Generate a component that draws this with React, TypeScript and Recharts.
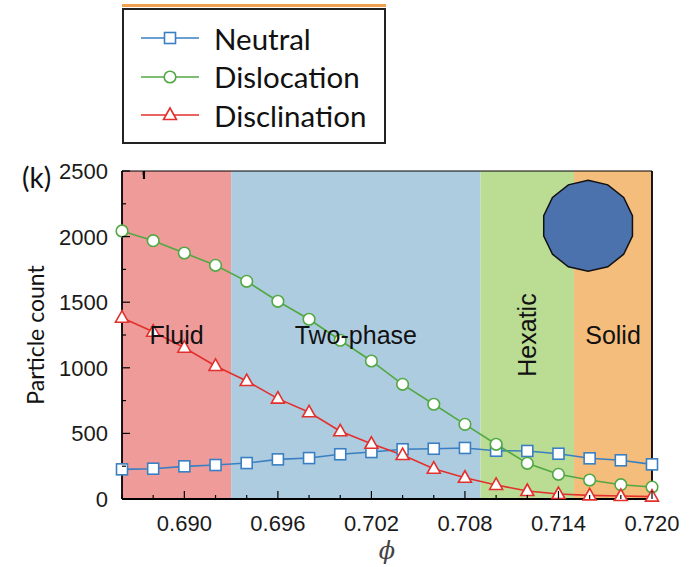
import { LineChart, Line, XAxis, YAxis, ReferenceArea, ReferenceDot, Legend } from "recharts"

// packing fraction
const phi = [0.686, 0.688, 0.69, 0.692, 0.694, 0.696, 0.698, 0.7, 0.702, 0.704, 0.706, 0.708, 0.71, 0.712, 0.714, 0.716, 0.718, 0.72]
const neutral = [226, 231, 249, 259, 274, 302, 312, 341, 358, 379, 383, 389, 368, 366, 345, 310, 295, 264]
const dislocation = [2043, 1969, 1875, 1781, 1659, 1507, 1370, 1210, 1052, 874, 722, 569, 417, 272, 188, 145, 109, 91]
const disclination = [1382, 1275, 1153, 1014, 899, 765, 661, 516, 421, 335, 231, 162, 107, 61, 38, 28, 23, 18]

const phaseNames = ["Fluid", "Two-phase", "Hexatic", "Solid"]
const phaseStart = [0.686, 0.693, 0.709, 0.715]
const phaseEnd = [0.693, 0.709, 0.715, 0.72]
const phaseColors = ["#ee9b99", "#aecce0", "#bbdc93", "#f4bd7b"]

const xTicks = [0.686, 0.688, 0.69, 0.692, 0.694, 0.696, 0.698, 0.7, 0.702, 0.704, 0.706, 0.708, 0.71, 0.712, 0.714, 0.716, 0.718, 0.72]
const xMajor = [0.69, 0.696, 0.702, 0.708, 0.714, 0.72]
const yTicks = [0, 250, 500, 750, 1000, 1250, 1500, 1750, 2000, 2250, 2500]
const yMajor = [0, 500, 1000, 1500, 2000, 2500]

const data = phi.map((p, i) => ({
  phi: p,
  neutral: neutral[i],
  dislocation: dislocation[i],
  disclination: disclination[i],
}))

const series = [
  { key: "neutral", name: "Neutral", color: "#3a7fc2", marker: "square" },
  { key: "dislocation", name: "Dislocation", color: "#52a843", marker: "circle" },
  { key: "disclination", name: "Disclination", color: "#e2302d", marker: "triangle" },
]

const TICK_FONT = "'Liberation Sans', Arial, sans-serif"
const LABEL_FONT = "Lato, 'DejaVu Sans', sans-serif"

const isMajor = (v: number, list: number[]) => list.some((m) => Math.abs(m - v) < 1e-6)

function Marker({ kind, cx, cy, color }: { kind: string; cx: number; cy: number; color: string }) {
  if (kind === "square") {
    return <rect x={cx - 5.5} y={cy - 5.5} width={11} height={11} fill="#fff" stroke={color} strokeWidth={1.6} />
  }
  if (kind === "circle") {
    return <circle cx={cx} cy={cy} r={5.8} fill="#fff" stroke={color} strokeWidth={1.6} />
  }
  return (
    <polygon
      points={`${cx},${cy - 7} ${cx - 6.5},${cy + 4.5} ${cx + 6.5},${cy + 4.5}`}
      fill="#fff"
      stroke={color}
      strokeWidth={1.6}
      strokeLinejoin="miter"
    />
  )
}

function BottomTick({ x, y, payload }: any) {
  const major = isMajor(payload.value, xMajor)
  return (
    <g>
      <line x1={x} y1={y} x2={x} y2={y - (major ? 8 : 4)} stroke="#000" strokeWidth={1.2} />
      {major && (
        <text x={x} y={y + 32} textAnchor="middle" fontSize={22} fontFamily={TICK_FONT} fill="#1a1a1a">
          {payload.value.toFixed(3)}
        </text>
      )}
    </g>
  )
}

function TopTick({ x, y, payload }: any) {
  const major = isMajor(payload.value, xMajor)
  return <line x1={x} y1={y} x2={x} y2={y + (major ? 8 : 4)} stroke="#000" strokeWidth={1.2} />
}

function LeftTick({ x, y, payload }: any) {
  const major = isMajor(payload.value, yMajor)
  return (
    <g>
      <line x1={x} y1={y} x2={x + (major ? 8 : 4)} y2={y} stroke="#000" strokeWidth={1.2} />
      {major && (
        <text x={x - 14} y={y + 8} textAnchor="end" fontSize={22} fontFamily={TICK_FONT} fill="#1a1a1a">
          {payload.value}
        </text>
      )}
    </g>
  )
}

function RightTick({ x, y, payload }: any) {
  const major = isMajor(payload.value, yMajor)
  return <line x1={x} y1={y} x2={x - (major ? 8 : 4)} y2={y} stroke="#000" strokeWidth={1.2} />
}

// 14-sided blob drawn in the top-right corner
function Polygon14({ cx, cy }: any) {
  const r = 45.5
  const pts = Array.from({ length: 14 }, (_, i) => {
    const a = (i / 14) * Math.PI * 2
    return `${cx + r * Math.sin(a)},${cy - r * Math.cos(a)}`
  }).join(" ")
  return <polygon points={pts} fill="#4b72ad" stroke="#111" strokeWidth={1.5} />
}

function LegendBox() {
  return (
    <div
      style={{
        boxSizing: "border-box",
        width: 264,
        height: 136,
        border: "2px solid #222",
        background: "#fff",
        padding: "9px 0 0 17px",
      }}
    >
      {series.map((s) => (
        <div key={s.key} style={{ display: "flex", alignItems: "center", height: 38.5 }}>
          <svg width={58} height={20} style={{ marginRight: 15 }}>
            <line x1={0} y1={10} x2={58} y2={10} stroke={s.color} strokeWidth={1.6} />
            <Marker kind={s.marker} cx={29} cy={10} color={s.color} />
          </svg>
          <span style={{ fontFamily: LABEL_FONT, fontSize: 29.5, color: "#111", lineHeight: 1 }}>{s.name}</span>
        </div>
      ))}
    </div>
  )
}

export default function App() {
  return (
    <div style={{ position: "absolute", left: 0, top: 0, width: 690, height: 567, background: "#fff" }}>
      <div style={{ position: "absolute", left: 0, top: 0, width: 690, height: 7, overflow: "hidden" }}>
        <div style={{ position: "absolute", left: 122, top: 4, width: 264, height: 3, background: "#f0a050" }} />
      </div>
      <LineChart width={690} height={567} data={data} margin={{ top: 0, right: 0, bottom: 0, left: 0 }}>
        {phaseNames.map((name, i) => (
          <ReferenceArea
            key={name}
            x1={phaseStart[i]}
            x2={phaseEnd[i]}
            fill={phaseColors[i]}
            fillOpacity={1}
            stroke="none"
            label={{
              value: name,
              position: "center",
              angle: name === "Hexatic" ? -90 : 0,
              fontSize: 25,
              fontFamily: TICK_FONT,
              fill: "#111",
            }}
          />
        ))}
        <ReferenceDot x={0.7159} y={2082} r={45} shape={(p: any) => <Polygon14 cx={p.cx} cy={p.cy} />} />
        <XAxis
          dataKey="phi"
          type="number"
          domain={[0.686, 0.72]}
          ticks={xTicks}
          interval={0}
          height={68}
          tickSize={0}
          tickMargin={0}
          tick={<BottomTick />}
          axisLine={{ stroke: "#000", strokeWidth: 1.8 }}
          label={{ value: "ϕ", position: "insideBottom", offset: 8, fontSize: 24, fontStyle: "italic", fontFamily: "'DejaVu Serif', serif", fill: "#444" }}
        />
        <XAxis
          xAxisId="top"
          orientation="top"
          type="number"
          domain={[0.686, 0.72]}
          ticks={xTicks}
          interval={0}
          height={171}
          tickSize={0}
          tickMargin={0}
          tick={<TopTick />}
          axisLine={{ stroke: "#000", strokeWidth: 1.2 }}
        />
        <YAxis
          type="number"
          domain={[0, 2500]}
          ticks={yTicks}
          interval={0}
          width={122}
          tickSize={0}
          tickMargin={0}
          tick={<LeftTick />}
          axisLine={{ stroke: "#000", strokeWidth: 1.8 }}
          label={{
            value: "Particle count",
            angle: -90,
            position: "insideLeft",
            offset: 36,
            fontSize: 23,
            fontFamily: LABEL_FONT,
            fill: "#111",
            style: { textAnchor: "middle" },
          }}
        />
        <YAxis
          yAxisId="right"
          orientation="right"
          type="number"
          domain={[0, 2500]}
          ticks={yTicks}
          interval={0}
          width={38}
          tickSize={0}
          tickMargin={0}
          tick={<RightTick />}
          axisLine={{ stroke: "#000", strokeWidth: 1.8 }}
        />
        {series.map((s) => (
          <Line
            key={s.key}
            dataKey={s.key}
            name={s.name}
            stroke={s.color}
            strokeWidth={1.6}
            isAnimationActive={false}
            dot={(p: any) => <Marker key={`${s.key}-${p.index}`} kind={s.marker} cx={p.cx} cy={p.cy} color={s.color} />}
          />
        ))}
        <Legend
          layout="vertical"
          align="center"
          verticalAlign="middle"
          wrapperStyle={{ top: 8, left: 122, width: 264 }}
          content={<LegendBox />}
        />
      </LineChart>
      <div style={{ position: "absolute", left: 22, top: 160, fontFamily: LABEL_FONT, fontSize: 28, color: "#111" }}>(k)</div>
    </div>
  )
}
